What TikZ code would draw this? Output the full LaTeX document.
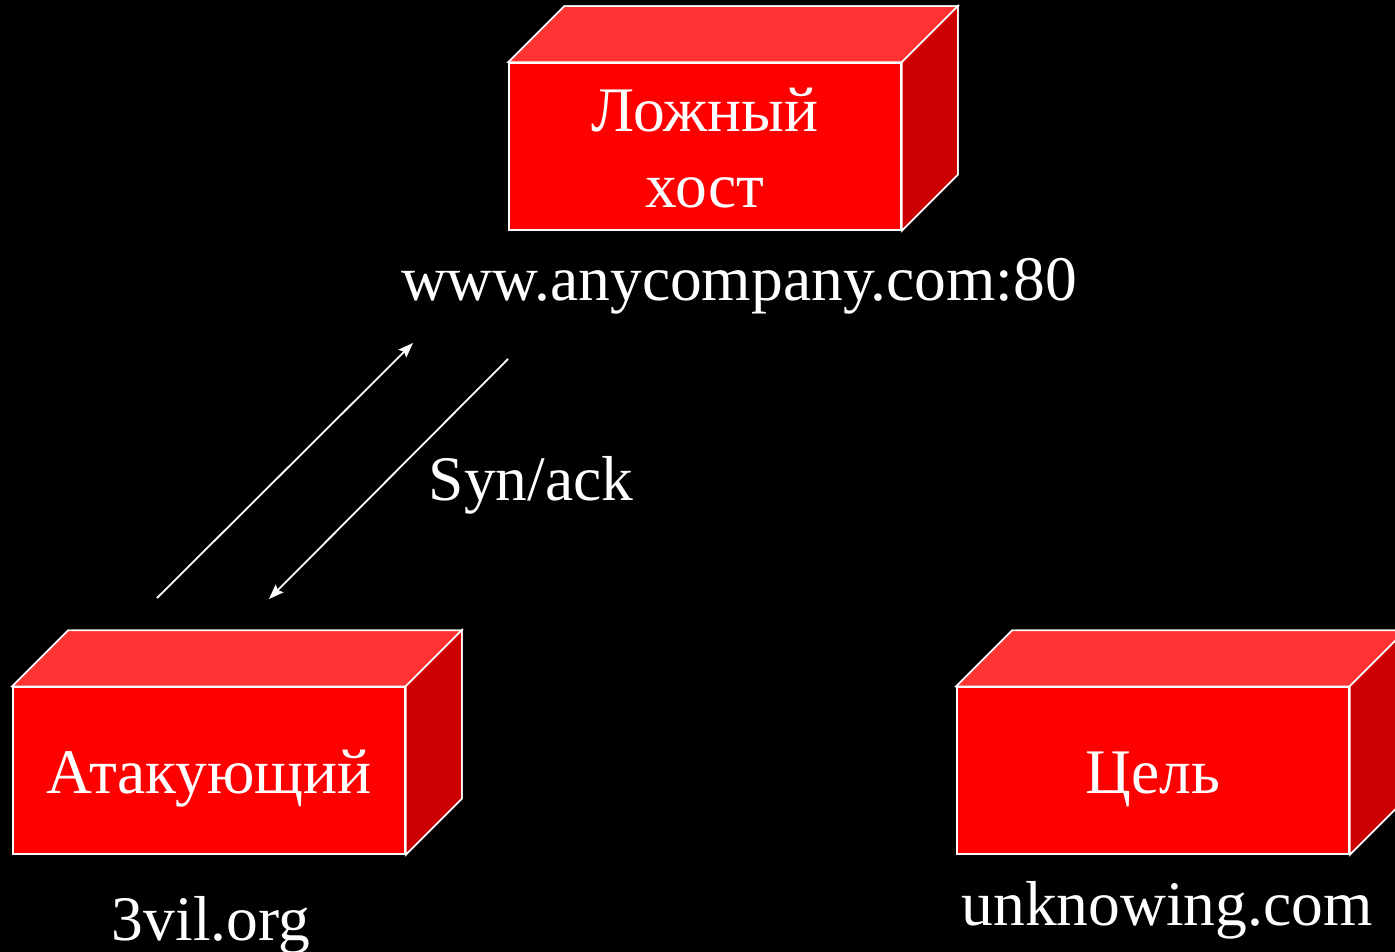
\documentclass[tikz,border=0pt]{standalone}
\usepackage{fontspec}
\setmainfont{Liberation Serif}
\usetikzlibrary{arrows.meta}
\definecolor{frontred}{RGB}{255,0,0}
\definecolor{topred}{RGB}{255,51,51}
\definecolor{sidered}{RGB}{204,0,0}
\tikzset{
  front/.style={draw=white, line width=1.5pt, fill=frontred, minimum width=392pt, minimum height=167pt, inner sep=0pt},
  topface/.style={draw=white, line width=1.5pt, fill=topred, line join=miter},
  sideface/.style={draw=white, line width=1.5pt, fill=sidered, line join=miter},
  txt/.style={text=white, font=\fontsize{63.5}{75}\selectfont, inner sep=0pt, anchor=base},
  conn/.style={draw=white, line width=1.8pt, -{Stealth[length=15pt, width=11pt, inset=2.5pt]}}
}
\newcommand{\cuboid}[1]{%
  \fill[topface] (#1.north west) -- ++(56,-56) -- ([shift={(56,-56)}]#1.north east) -- (#1.north east) -- cycle;
  \fill[sideface] (#1.north east) -- ++(56,-56) -- ([shift={(56,-56)}]#1.south east) -- (#1.south east) -- cycle;
  \draw[topface] (#1.north west) -- ++(56,-56) -- ([shift={(56,-56)}]#1.north east) -- (#1.north east) -- cycle;
  \draw[sideface] (#1.north east) -- ++(56,-56) -- ([shift={(56,-56)}]#1.south east) -- (#1.south east) -- cycle;
}
\begin{document}
\begin{tikzpicture}[x=1pt, y=-1pt]
\fill[black] (0,0) rectangle (1395,952);
\useasboundingbox (0,0) rectangle (1395,952);
\begin{scope}
\clip (0,0) rectangle (1395,952);
% boxes
\node[front] (fake) at (705,146.5) {};
\cuboid{fake}
\node[front] (att) at (209,770.5) {};
\cuboid{att}
\node[front] (tgt) at (1153,770.5) {};
\cuboid{tgt}
\end{scope}
% box labels
\node[txt] (fakeA) at (705,132) {Ложный};
\node[txt] (fakeB) at (705,208) {хост};
\node[txt] (attT) at (209,793) {Атакующий};
\node[txt] (tgtT) at (1153,793) {Цель};
% host names
\node[txt] (fakeN) at (739,300) {www.anycompany.com:80};
\node[txt] (attN) at (211,940) {3vil.org};
\node[txt] (tgtN) at (1167,925) {unknowing.com};
% connectors
\coordinate (a1s) at (157,598);
\coordinate (a1e) at (413,343);
\coordinate (a2s) at (508,359);
\coordinate (a2e) at (269,599);
\draw[conn] (a1s) -- (a1e);
\draw[conn] (a2s) -- (a2e);
\node[txt] (syn) at (531,500) {Syn/ack};
\end{tikzpicture}
\end{document}
